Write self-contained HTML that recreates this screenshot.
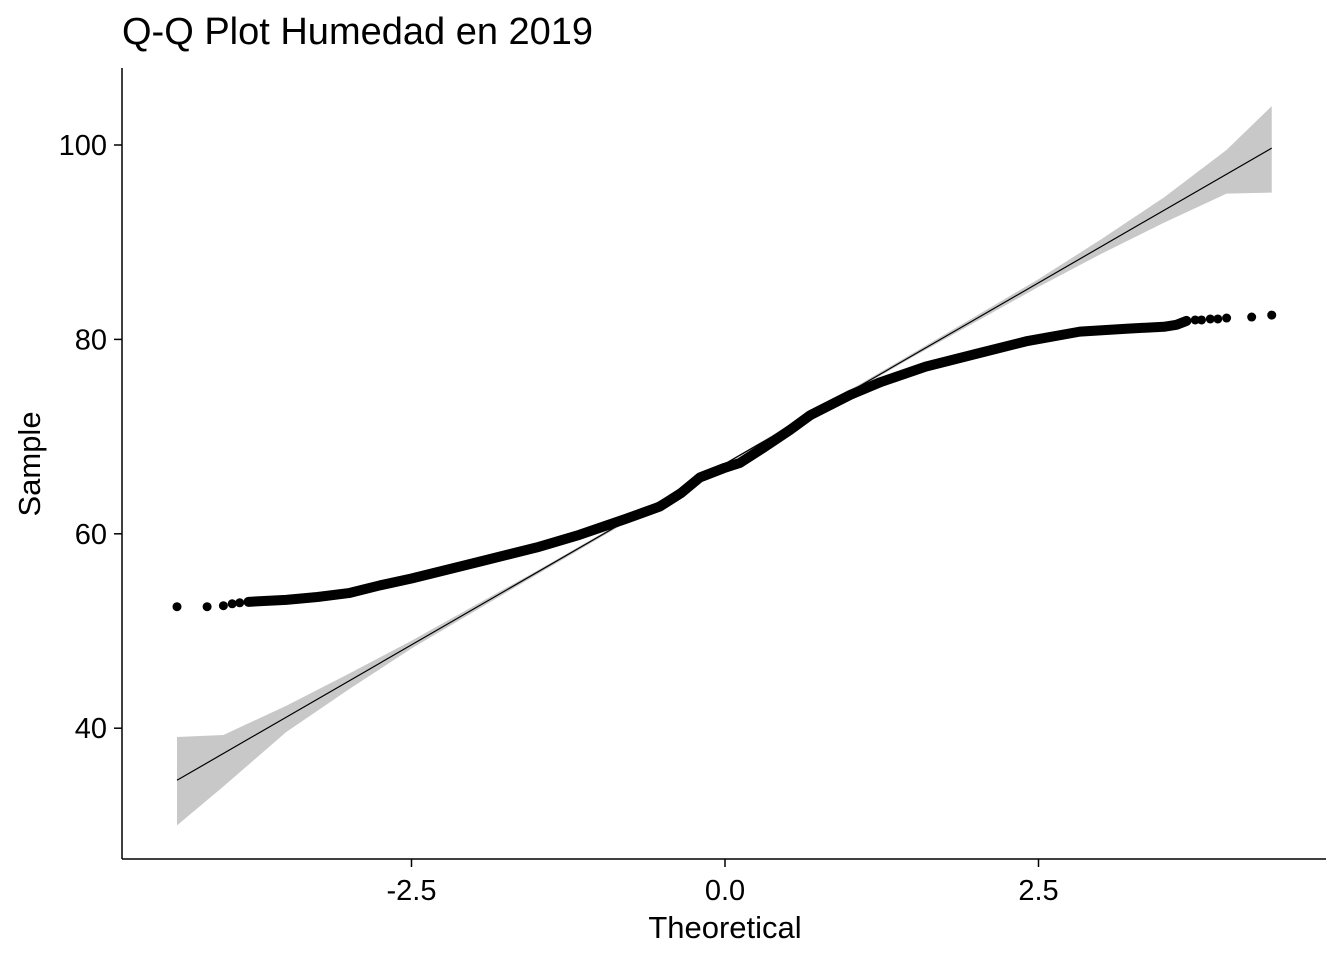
<!DOCTYPE html>
<html><head><meta charset="utf-8"><style>
body{margin:0;background:#fff;font-family:"Liberation Sans",Arial,sans-serif;}
svg text{font-family:"Liberation Sans",Arial,sans-serif;}
</style></head><body>
<svg id="chart" width="1344" height="960">
<text x="122" y="44" font-size="38" fill="#000">Q-Q Plot Humedad en 2019</text>
<g id="band"></g>
<g id="ref"></g>
<g id="pts"></g>
<line x1="122" y1="68" x2="122" y2="859" stroke="#000" stroke-width="1.5"/>
<line x1="122" y1="859" x2="1326" y2="859" stroke="#000" stroke-width="1.5"/>
<g id="xt"></g>
<g id="yt"></g>
<text x="725" y="938" font-size="31" text-anchor="middle">Theoretical</text>
<text transform="translate(40,464) rotate(-90)" font-size="31" text-anchor="middle">Sample</text>
</svg>
<script>
const theo = [-4.37,-4.13,-4.0,-3.93,-3.87,-3.8,-3.5,-3.25,-3.0,-2.75,-2.5,-2.0,-1.5,-1.16,-0.8,-0.52,-0.35,-0.2,0,0.12,0.3,0.52,0.68,1.0,1.24,1.6,2.03,2.4,2.83,3.2,3.5,3.6,3.68,3.75,3.8,3.87,3.93,4.0,4.2,4.36];
const sample = [52.5,52.5,52.6,52.8,52.9,53.0,53.2,53.5,53.9,54.7,55.4,57.0,58.6,59.9,61.5,62.8,64.2,65.8,66.8,67.3,68.8,70.7,72.2,74.3,75.6,77.2,78.6,79.8,80.8,81.1,81.3,81.5,81.9,82.0,82.0,82.1,82.1,82.2,82.3,82.5];
const bandX = [-4.37,-4.0,-3.5,-3.0,-2.5,-1.5,0,1.5,2.5,3.0,3.5,4.0,4.36];
const bandLo = [30.0,34.0,39.6,44.0,48.2,55.8,67.1,78.2,85.4,88.8,92.0,95.0,95.1];
const bandHi = [39.1,39.3,42.3,45.6,49.0,56.2,67.3,78.6,86.2,90.3,94.6,99.5,104.0];
const refInt = 67.2, refSlope = 7.45;
const xTicks = [-2.5,0.0,2.5], yTicks = [40,60,80,100];
const X = t => 725 + t*125.4;
const Y = v => 145 + (100 - v)*9.72;
const NS='http://www.w3.org/2000/svg';
function mk(tag, parent, attrs){const e=document.createElementNS(NS,tag);for(const k in attrs)e.setAttribute(k,attrs[k]);parent.appendChild(e);return e;}
let d = bandX.map((t,i)=>(i?'L':'M')+X(t)+','+Y(bandHi[i])).join('');
for(let i=bandX.length-1;i>=0;i--) d+='L'+X(bandX[i])+','+Y(bandLo[i]);
const bp = mk('path', document.getElementById('band'), {d:d+'Z', fill:'#c8c8c8'});


const t0=theo[0], t1=theo[theo.length-1];
const rl = mk('line', document.getElementById('ref'), {x1:X(t0),y1:Y(refInt+refSlope*t0),x2:X(t1),y2:Y(refInt+refSlope*t1),stroke:'#000','stroke-width':1.2});


const pts = document.getElementById('pts');
const inner = theo.map((t,i)=>[t,sample[i]]).filter(p=>p[0]>=-3.85 && p[0]<=3.7);
const pl = mk('polyline', pts, {points: inner.map(p=>X(p[0])+','+Y(p[1])).join(' '), fill:'none', stroke:'#000','stroke-width':10,'stroke-linejoin':'round','stroke-linecap':'round'});


theo.forEach((t,i)=>{ if(t<-3.85||t>3.7){
  const c = mk('circle', pts, {cx:X(t), cy:Y(sample[i]), r:4.5, fill:'#000'});
  
  
}});
const xt=document.getElementById('xt');
xTicks.forEach(v=>{
  const l=mk('line',xt,{x1:X(v),y1:859,x2:X(v),y2:867,stroke:'#000','stroke-width':1.5});
  
  
  const tx=mk('text',xt,{x:X(v),y:900,'font-size':29,'text-anchor':'middle'});
  tx.textContent=v.toFixed(1);
  
  
});
const yt=document.getElementById('yt');
yTicks.forEach(v=>{
  const l=mk('line',yt,{x1:114,y1:Y(v),x2:122,y2:Y(v),stroke:'#000','stroke-width':1.5});
  
  
  const tx=mk('text',yt,{x:107,y:Y(v)+10,'font-size':29,'text-anchor':'end'});
  tx.textContent=v;
  
  
});
</script>
</body></html>
